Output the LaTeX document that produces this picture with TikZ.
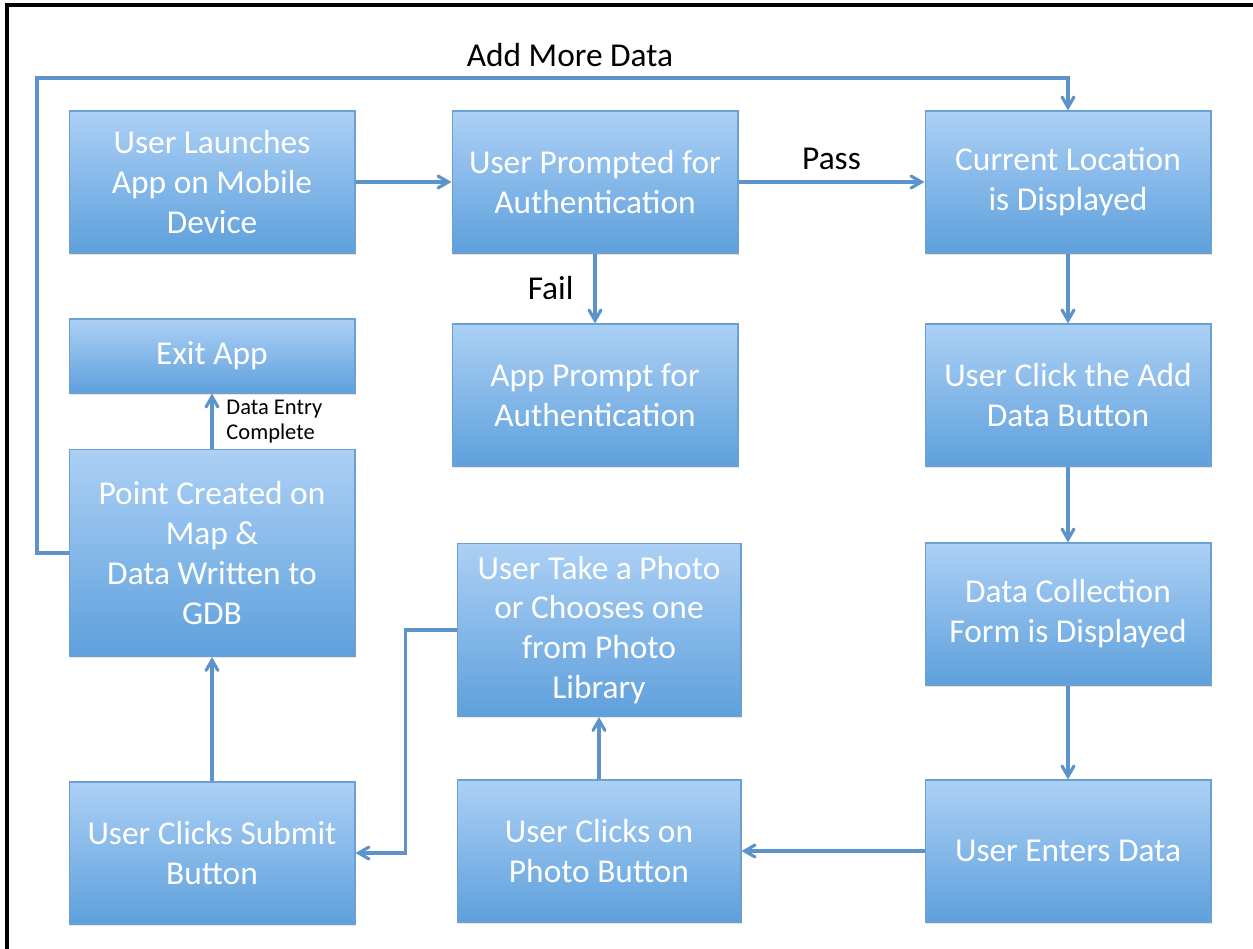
\documentclass[tikz,border=0pt]{standalone}
\usepackage{fontspec}
\setmainfont{Carlito}
\usepackage{tikz}
\usetikzlibrary{arrows,calc,shadows}
\definecolor{boxtop}{RGB}{172,208,245}
\definecolor{boxbot}{RGB}{94,160,220}
\definecolor{boxedge}{RGB}{108,160,210}
\definecolor{flowc}{RGB}{93,147,203}
\tikzset{
  block/.style={rectangle,draw=boxedge,line width=0.6pt,top color=boxtop,bottom color=boxbot,
    text=white,align=center,inner sep=0pt,minimum width=5.72cm,minimum height=2.84cm,
    font=\fontsize{19}{22.7}\selectfont,drop shadow={opacity=0.2,shadow xshift=0.6pt,shadow yshift=-1pt}},
  flow/.style={draw=flowc,line width=1.8pt,->,>=angle 60},
  lbl/.style={font=\fontsize{19}{22}\selectfont,text=black}
}
\begin{document}
\begin{tikzpicture}[x=0.02cm,y=-0.02cm]
	\useasboundingbox (0,0) rectangle (1253,949);
	\draw[line width=2.3pt] (7,949) -- (7,5) -- (1253,5);
	\node[block] (launch) at (212,182) {User Launches\\App on Mobile\\Device};
	\node[block] (auth) at (595,182) {User Prompted for\\Authentication};
	\node[block] (loc) at (1068,182) {Current Location\\is Displayed};
	\node[block,minimum height=1.48cm] (exit) at (212,356) {Exit App};
	\node[block] (fail) at (595,395) {App Prompt for\\Authentication};
	\node[block] (addbtn) at (1068,395) {User Click the Add\\Data Button};
	\node[block,minimum height=4.14cm] (point) at (212,553) {Point Created on\\Map \&\\Data Written to\\GDB};
	\node[block,minimum width=5.68cm,minimum height=3.46cm] (photo) at (599,630) {User Take a Photo\\or Chooses one\\from Photo\\Library};
	\node[block] (form) at (1068,614) {Data Collection\\Form is Displayed};
	\node[block] (submit) at (212,853) {User Clicks Submit\\Button};
	\node[block,minimum width=5.68cm] (photobtn) at (599,851) {User Clicks on\\Photo Button};
	\node[block] (enter) at (1068,851) {User Enters Data};
	\coordinate (loopl) at (37,78);
	\node[lbl] (more) at (570,55) {Add More Data};
	\draw[flow] (launch) -- (auth);
	\draw[flow] (auth) -- node[lbl,midway,above=3pt] (pass) {Pass} (loc);
	\draw[flow] (auth) -- node[lbl,midway,left=8pt] (failt) {Fail} (fail);
	\draw[flow] (loc) -- (addbtn);
	\draw[flow] (addbtn) -- (form);
	\draw[flow] (form) -- (enter);
	\draw[flow] (enter) -- (photobtn);
	\draw[flow] (photobtn) -- (photo);
	\draw[flow] (photo.west) -| ($(submit.east)+(50,0)$) -- (submit.east);
	\draw[flow] (submit) -- (point);
	\draw[flow] (point) -- node[midway,right=4pt,align=left,font=\fontsize{12.8}{14.2}\selectfont] (done) {Data Entry\\Complete} (exit);
	\draw[flow] (point.west) -| (loopl) -| (loc.north);
\end{tikzpicture}
\end{document}
